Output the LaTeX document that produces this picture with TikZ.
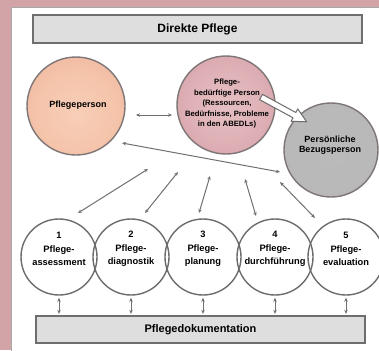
\documentclass[tikz,border=0pt]{standalone}
\usepackage{fontspec}
\setmainfont{Liberation Sans}
\usetikzlibrary{arrows.meta,calc}
\definecolor{bgpink}{HTML}{D2A4A7}
\definecolor{panelline}{HTML}{A9A9A9}
\definecolor{boxfill}{HTML}{DEDEDE}
\definecolor{boxline}{HTML}{6E6E6E}
\definecolor{circline}{HTML}{7E7676}
\definecolor{arrowgray}{HTML}{707070}
\pgfdeclareradialshading{ppshade}{\pgfpoint{0bp}{-5bp}}{rgb(0bp)=(0.97,0.81,0.72); rgb(20bp)=(0.96,0.77,0.67); rgb(50bp)=(0.91,0.65,0.56)}
\pgfdeclareradialshading{pbshade}{\pgfpoint{0bp}{0bp}}{rgb(0bp)=(0.90,0.75,0.76); rgb(20bp)=(0.87,0.69,0.71); rgb(50bp)=(0.78,0.55,0.58)}
\pgfdeclareradialshading{bzshade}{\pgfpoint{0bp}{0bp}}{rgb(0bp)=(0.73,0.73,0.73); rgb(35bp)=(0.72,0.72,0.72); rgb(50bp)=(0.69,0.69,0.69)}
\begin{document}
\begin{tikzpicture}[x=1pt,y=-1pt,
  box/.style={draw=boxline, fill=boxfill, line width=1.3pt, inner sep=0pt},
  bigc/.style={circle, draw=circline, line width=1.4pt, inner sep=0pt},
  stepc/.style={circle, draw=gray!85!black, line width=1.4pt, inner sep=0pt, minimum size=76pt},
  lbl/.style={align=center, inner sep=0pt},
  conn/.style={draw=arrowgray, line width=1pt, {Stealth[length=4pt,width=3.5pt]}-{Stealth[length=4pt,width=3.5pt]}},
]
\useasboundingbox (0,0) rectangle (379,350);
\fill[bgpink] (0,0) rectangle (379,350);
\draw[panelline, fill=white, line width=1pt] (11.5,7.5) rectangle (390,360);

% top and bottom boxes
\node[box, minimum width=329pt, minimum height=28pt, font=\fontsize{12}{14}\selectfont\bfseries] (dp) at (197.5,29) {Direkte Pflege};
\node[box, minimum width=329pt, minimum height=27pt, font=\fontsize{11}{13}\selectfont\bfseries] (doc) at (200.5,329.5) {Pflegedokumentation};

% big circles
\node[bigc, minimum size=98pt, shading=ppshade] (pp) at (76,106) {};
\node[lbl, font=\fontsize{9}{11}\selectfont\bfseries] (ppt) at (78,105) {Pflegeperson};

\node[bigc, minimum size=98pt, shading=pbshade] (pb) at (226,105) {};
\node[lbl, font=\fontsize{7.7}{10.5}\selectfont\bfseries] (pbt) at (227,104) {Pflege-\\bedürftige Person\\(Ressourcen,\\Bedürfnisse, Probleme\\in den ABEDLs)};

\node[bigc, minimum size=94pt, shading=bzshade] (bz) at (331,150) {};
\node[lbl, font=\fontsize{9}{10.5}\selectfont\bfseries] (bzt) at (330,145) {Persönliche\\Bezugsperson};

% block arrow Pflegebedürftige Person -> Bezugsperson
\coordinate (ba1) at (261,97);
\coordinate (ba2) at (307,122);
\begin{scope}[shift={(ba1)}, rotate=-28.5]
  \draw[draw=gray!85!black, fill=white, line width=1pt, line join=round]
    (0,-3) -- (38,-3) -- (38,-7) -- (52,0) -- (38,7) -- (38,3) -- (0,3) -- cycle;
\end{scope}

% arrows between persons
\coordinate (s1) at (136,115);
\coordinate (s2) at (172,115);
\draw[conn] (s1) -- (s2);
\coordinate (l1) at (122,143);
\coordinate (l2) at (280,172);
\draw[conn] (l1) -- (l2);

% process circles
\node[stepc] (c1) at (59,257) {};
\node[stepc] (c2) at (131,257) {};
\node[stepc] (c3) at (203,257) {};
\node[stepc] (c4) at (275,257) {};
\node[stepc] (c5) at (346,257) {};
\begin{scope}[every node/.style={lbl, font=\fontsize{9.3}{13.5}\selectfont\bfseries}]
\node (t1) at (59,249) {1\\Pflege-\\assessment};
\node (t2) at (131,249) {2\\Pflege-\\diagnostik};
\node (t3) at (203,249) {3\\Pflege-\\planung};
\node (t4) at (275,249) {4\\Pflege-\\durchführung};
\node (t5) at (346,249) {5\\Pflege-\\evaluation};
\end{scope}

% arrows from center to process circles
\coordinate (a1) at (148,169); \coordinate (b1) at (78,213);
\coordinate (a2) at (178,172); \coordinate (b2) at (145,213);
\coordinate (a3) at (210,176); \coordinate (b3) at (199,213);
\coordinate (a4) at (245,179); \coordinate (b4) at (256,216);
\coordinate (a5) at (280,182); \coordinate (b5) at (315,218);
\foreach \i in {1,...,5} { \draw[conn] (a\i) -- (b\i); }

% arrows to documentation
\foreach \i in {1,...,5} {
  \draw[conn, line width=0.8pt] ($(c\i.south)+(0,2)$) -- ($(c\i.south |- doc.north)+(0,-1.5)$);
}
\end{tikzpicture}
\end{document}
